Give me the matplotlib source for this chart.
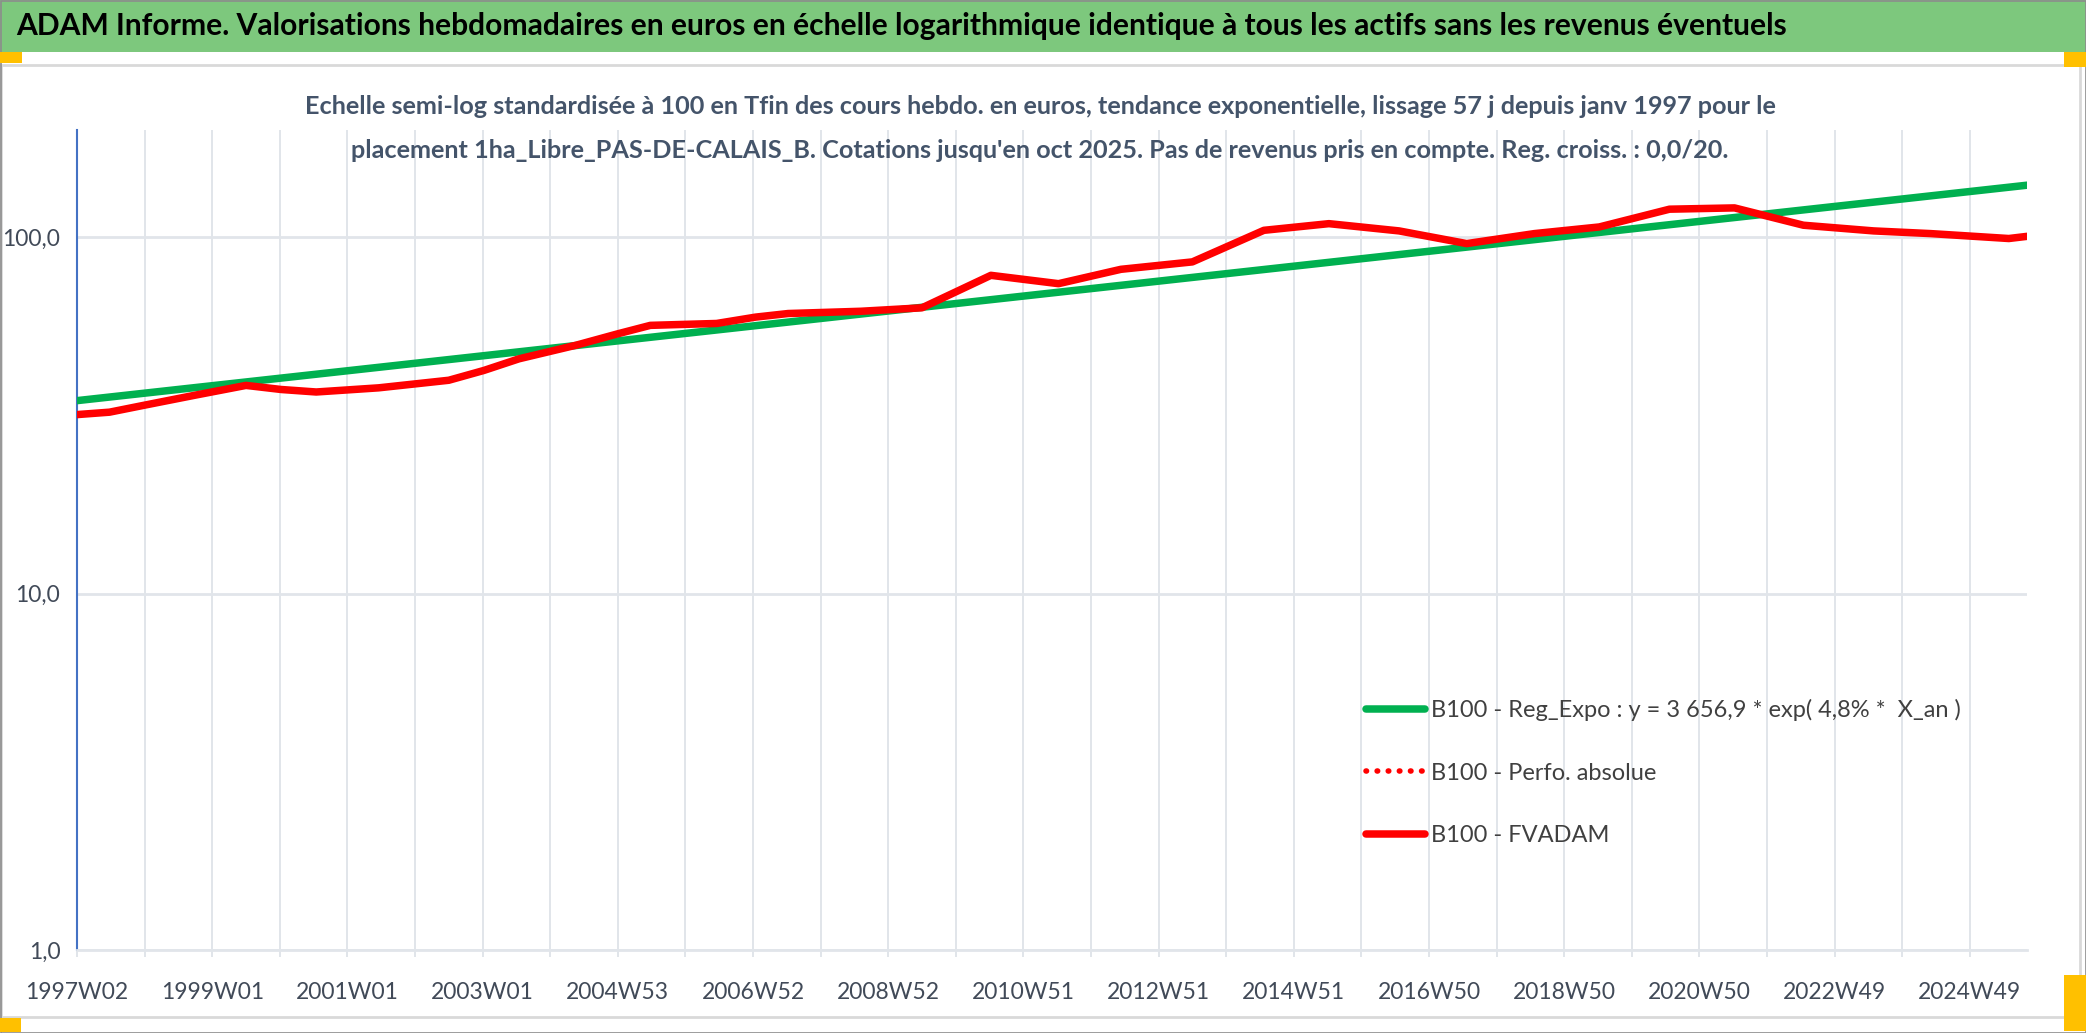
import matplotlib
matplotlib.use("Agg")
import matplotlib.pyplot as plt
from matplotlib.patches import Rectangle
from matplotlib.ticker import FixedLocator, NullLocator, FixedFormatter

# ---------------- data ----------------
main_title = ("ADAM Informe. Valorisations hebdomadaires en euros en échelle logarithmique "
              "identique à tous les actifs sans les revenus éventuels")
sub_line1 = ("Echelle semi-log standardisée à 100 en Tfin des cours hebdo. en euros, tendance "
             "exponentielle, lissage 57 j depuis janv 1997 pour le")
sub_line2 = ("placement 1ha_Libre_PAS-DE-CALAIS_B. Cotations jusqu'en oct 2025. Pas de revenus "
             "pris en compte. Reg. croiss. : 0,0/20.")

tick_labels = ["1997W02", "1999W01", "2001W01", "2003W01", "2004W53", "2006W52", "2008W52",
               "2010W51", "2012W51", "2014W51", "2016W50", "2018W50", "2020W50", "2022W49",
               "2024W49"]
n_weeks = 1500

# FVADAM (week index from 1997W02, value base 100)
fv_weeks = [0, 25, 52, 90, 130, 157, 184, 232, 286, 313, 340, 384, 416, 441, 492, 522,
            547, 603, 650, 703, 755, 803, 858, 913, 963, 1017, 1069, 1121, 1171, 1225,
            1275, 1328, 1382, 1426, 1486, 1500]
fv_values = [31.8, 32.3, 33.8, 36.0, 38.4, 37.4, 36.8, 37.8, 39.7, 42.3, 45.6, 49.8, 53.6,
             56.6, 57.3, 59.7, 61.1, 62.0, 63.4, 78.2, 74.1, 81.3, 85.3, 104.6, 109.2,
             104.2, 96.0, 102.4, 106.9, 119.9, 120.9, 108.1, 104.2, 102.4, 99.2, 100.6]

# exponential regression line
reg_weeks = [0, 1500]
reg_values = [34.8, 140.0]

y_ticks = [1, 10, 100]
y_tick_labels = ["1,0", "10,0", "100,0"]

leg_labels = ["B100 - Reg_Expo : y = 3 656,9 * exp( 4,8% *  X_an )",
              "B100 - Perfo. absolue",
              "B100 - FVADAM"]

# ---------------- figure ----------------
W, H = 2086, 1033
DPI = 100
fig = plt.figure(figsize=(W / DPI, H / DPI), dpi=DPI)
fig.patch.set_facecolor("white")
FONT = ["Lato", "DejaVu Sans"]

def fx(px):
    return px / W

def fy(py):
    return 1 - py / H

def frect(x0, y0, x1, y1, **kw):
    r = Rectangle((fx(x0), fy(y1)), fx(x1) - fx(x0), fy(y0) - fy(y1),
                  transform=fig.transFigure, **kw)
    fig.patches.append(r)
    return r

# green title bar
frect(0, 0, W, 52, facecolor="#7DC87D", edgecolor="none", zorder=0)
# chart area border
frect(1, 65, 2080, 1017, facecolor="white", edgecolor="#D9D9D9", linewidth=2, zorder=0)
# outer border
frect(0.5, 0.5, W - 0.5, H - 0.5, facecolor="none", edgecolor="#8C8C8C", linewidth=1.2, zorder=5)
# yellow handles
for (a, b, c, d) in [(0, 52, 22, 63), (2064, 52, 2086, 67), (0, 1018, 21, 1032), (2064, 975, 2086, 1031)]:
    frect(a, b, c, d, facecolor="#FFC000", edgecolor="none", zorder=6)

ax = fig.add_axes([fx(77), fy(950), fx(2027) - fx(77), fy(130) - fy(950)])
ax.set_zorder(2)
ax.set_facecolor("none")
ax.set_yscale("log")
ax.set_xlim(0, n_weeks)
ax.set_ylim(1, 200)

grid_c = "#E1E5EA"
major = [i * 104 for i in range(len(tick_labels))]
minor = [52 + i * 104 for i in range(len(tick_labels)) if 52 + i * 104 < n_weeks]
ax.xaxis.set_major_locator(FixedLocator(major))
ax.xaxis.set_major_formatter(FixedFormatter(tick_labels))
ax.xaxis.set_minor_locator(FixedLocator(minor))
ax.yaxis.set_major_locator(FixedLocator(y_ticks))
ax.yaxis.set_major_formatter(FixedFormatter(y_tick_labels))
ax.yaxis.set_minor_locator(NullLocator())

ax.grid(True, which="both", axis="x", color=grid_c, linewidth=1.4)
ax.grid(True, which="major", axis="y", color=grid_c, linewidth=2)
ax.set_axisbelow(True)

ax.tick_params(axis="x", which="both", direction="out", length=5, width=1.4, color=grid_c,
               pad=18, labelsize=16.5, labelcolor="#414A58")
ax.tick_params(axis="y", which="both", length=0, pad=12, labelsize=16.5, labelcolor="#414A58")
for lab in ax.get_xticklabels() + ax.get_yticklabels():
    lab.set_family(FONT)

for s in ["top", "right"]:
    ax.spines[s].set_visible(False)
ax.spines["left"].set_color("#4472C4")
ax.spines["left"].set_linewidth(1.5)
ax.spines["bottom"].set_color(grid_c)
ax.spines["bottom"].set_linewidth(2)

# series
l_reg, = ax.plot(reg_weeks, reg_values, color="#00B050", linewidth=5.4,
                 solid_capstyle="round", label=leg_labels[0], zorder=3)
l_perf, = ax.plot([], [], color="#FF0000", linewidth=4, linestyle=(0, (0.1, 1.9)),
                  dash_capstyle="round", label=leg_labels[1])
l_fv, = ax.plot(fv_weeks, fv_values, color="#FF0000", linewidth=5.4,
                solid_capstyle="round", solid_joinstyle="round", label=leg_labels[2], zorder=4)

# texts
t_main = fig.text(fx(16), fy(26), main_title, ha="left", va="center", fontsize=24,
                  fontweight="bold", color="black", family=FONT)
t_s1 = fig.text(fx(1040), fy(107), sub_line1, ha="center", va="center", fontsize=17,
                fontweight="bold", color="#44546A", family=FONT)
t_s2 = fig.text(fx(1040), fy(150), sub_line2, ha="center", va="center", fontsize=17,
                fontweight="bold", color="#44546A", family=FONT)

fig.canvas.draw()
r = fig.canvas.get_renderer()

def fit(t, target):
    for _ in range(3):
        w = t.get_window_extent(r).width
        t.set_fontsize(t.get_fontsize() * target / w)

fit(t_main, 1774)
fit(t_s1, 1474)
t_s2.set_fontsize(t_s1.get_fontsize())

probe = fig.text(0, 0, leg_labels[0], fontsize=15, family=FONT)
for _ in range(3):
    w = probe.get_window_extent(r).width
    probe.set_fontsize(probe.get_fontsize() * 532 / w)
leg_fs = probe.get_fontsize()
probe.remove()
fs_px = leg_fs * DPI / 72

leg = ax.legend(handles=[l_reg, l_perf, l_fv], loc="upper left",
                bbox_to_anchor=(fx(1366), fy(699)), bbox_transform=fig.transFigure,
                frameon=False, handlelength=59 / fs_px,
                handletextpad=6 / fs_px, labelspacing=(70 - 1.2 * fs_px) / fs_px,
                borderpad=0, borderaxespad=0, prop={"family": FONT, "size": leg_fs})
for t in leg.get_texts():
    t.set_color("#404040")

fig.savefig("out.png", dpi=DPI, facecolor="white")
